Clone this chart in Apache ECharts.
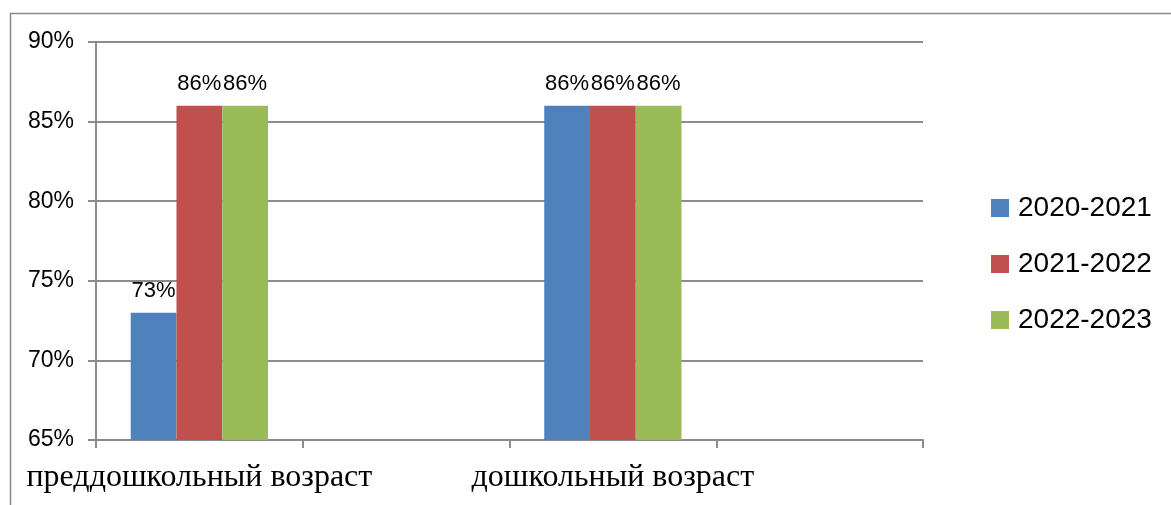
<!DOCTYPE html>
<html>
<head>
<meta charset="utf-8">
<script src="https://cdn.jsdelivr.net/npm/echarts@6/dist/echarts.min.js"></script>
<style>
html,body{margin:0;padding:0;background:#fff;}
#c{width:1171px;height:505px;}
</style>
</head>
<body>
<div id="c"></div>
<script>
var categories = ['преддошкольный возраст', '', 'дошкольный возраст', ''];
var seriesNames = ['2020-2021', '2021-2022', '2022-2023'];
var s2020 = [73, null, 86, null];
var s2021 = [86, null, 86, null];
var s2022 = [86, null, 86, null];
var yTicks = { min: 65, max: 90, interval: 5 };
var colors = ['#4F81BD', '#C0504D', '#9BBB59'];

var chart = echarts.init(document.getElementById('c'), null, { renderer: 'canvas' });
var labelStyle = {
  show: true, position: 'top', distance: 11,
  formatter: '{c}%', color: '#000', fontSize: 22, fontFamily: 'Liberation Sans'
};
function mk(name, data, color) {
  return {
    name: name, type: 'bar', data: data, barGap: '0%', barCategoryGap: '33.6%',
    itemStyle: { color: color }, label: labelStyle
  };
}
chart.setOption({
  animation: false,
  color: colors,
  graphic: [{
    type: 'rect', left: 8, top: 11, shape: { width: 1200, height: 600 },
    style: { fill: 'none', stroke: '#8a8a8a', lineWidth: 1.5 }
  }],
  grid: { left: 96, right: 248, top: 42, bottom: 65 },
  legend: {
    orient: 'vertical', left: 986, top: 189, itemWidth: 18, itemHeight: 18, itemGap: 28,
    icon: 'rect',
    textStyle: { fontSize: 28, fontFamily: 'Liberation Sans', color: '#000', padding: [0, 0, 0, 4] },
    data: seriesNames
  },
  xAxis: {
    type: 'category', data: categories,
    axisLine: { lineStyle: { color: '#8c8c8c', width: 2 } },
    axisTick: { show: true, interval: 0, length: 8, lineStyle: { color: '#8c8c8c', width: 2 } },
    axisLabel: { interval: 0, margin: 22, color: '#000', fontSize: 32, fontFamily: 'Liberation Serif' },
    splitLine: { show: false }
  },
  yAxis: {
    type: 'value', min: yTicks.min, max: yTicks.max, interval: yTicks.interval,
    axisLine: { show: true, lineStyle: { color: '#8c8c8c', width: 2 } },
    axisTick: { show: true, length: 8, lineStyle: { color: '#8c8c8c', width: 2 } },
    axisLabel: { formatter: '{value}%', margin: 22, color: '#000', fontSize: 23, fontFamily: 'Liberation Sans' },
    splitLine: { lineStyle: { color: '#8c8c8c', width: 2 } }
  },
  series: [
    mk(seriesNames[0], s2020, colors[0]),
    mk(seriesNames[1], s2021, colors[1]),
    mk(seriesNames[2], s2022, colors[2])
  ]
});
</script>
</body>
</html>
